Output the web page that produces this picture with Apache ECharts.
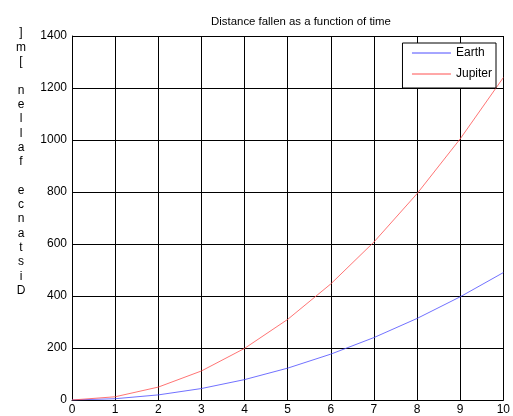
<!DOCTYPE html>
<html>
<head>
<meta charset="utf-8">
<script src="https://cdn.jsdelivr.net/npm/echarts@6/dist/echarts.min.js"></script>
<style>
  html, body { margin: 0; padding: 0; background: #fff; }
  #chart { width: 513px; height: 416px; }
</style>
</head>
<body>
<div id="chart"></div>
<script>
// Time in seconds
const times = [0, 1, 2, 3, 4, 5, 6, 7, 8, 9, 10];
// Distance fallen [m]
const earth = [0, 4.9, 19.6, 44.1, 78.4, 122.5, 176.4, 240.1, 313.6, 396.9, 490];
const jupiter = [0, 12.4, 49.6, 111.6, 198.4, 310, 446.4, 607.6, 793.6, 1004.4, 1240];
const seriesNames = ['Earth', 'Jupiter'];
const titleText = 'Distance fallen as a function of time';
const yLabel = 'Distance fallen [m]';

const font = 'Liberation Sans, Arial, sans-serif';
// Upright characters stacked top to bottom, read bottom-up
const stackedLabel = yLabel.split('').reverse().join('\n');

const chart = echarts.init(document.getElementById('chart'), null, { renderer: 'canvas' });
chart.setOption({
  animation: false,
  backgroundColor: '#fff',
  title: {
    text: titleText,
    left: 296, top: 11, textAlign: 'center',
    textStyle: { fontFamily: font, fontSize: 11.4, fontWeight: 'normal', color: '#000' }
  },
  graphic: [{
    type: 'text',
    x: 21, y: 26,
    style: {
      text: stackedLabel,
      font: '12px ' + font,
      fill: '#000',
      lineHeight: 14.3,
      align: 'center'
    }
  }],
  legend: {
    data: seriesNames,
    orient: 'vertical',
    right: 17, top: 43,
    padding: [4, 4, 8, 9],
    itemGap: 9,
    itemWidth: 39,
    itemHeight: 14,
    itemStyle: { opacity: 0 },
    lineStyle: { width: 1 },
    backgroundColor: '#fff',
    borderColor: '#000',
    borderWidth: 1,
    borderRadius: 0,
    textStyle: { fontFamily: font, fontSize: 12, color: '#000', padding: [0, 0, 0, 0] }
  },
  grid: { left: 72, right: 9, top: 36, bottom: 16, containLabel: false },
  xAxis: {
    type: 'value', min: 0, max: 10, interval: 1,
    axisLine: { show: true, lineStyle: { color: '#000', width: 1 } },
    axisTick: { show: true, inside: true, length: 4, lineStyle: { color: '#000' } },
    axisLabel: { fontFamily: font, fontSize: 12, color: '#000', margin: 4, formatter: v => String(v) },
    splitLine: { show: true, lineStyle: { color: '#000', width: 1 } }
  },
  yAxis: {
    type: 'value', min: 0, max: 1400, interval: 200,
    axisLine: { show: true, lineStyle: { color: '#000', width: 1 } },
    axisTick: { show: true, inside: true, length: 4, lineStyle: { color: '#000' } },
    axisLabel: { fontFamily: font, fontSize: 12, color: '#000', margin: 5, formatter: v => String(v) },
    splitLine: { show: true, lineStyle: { color: '#000', width: 1 } }
  },
  series: [
    {
      name: seriesNames[0], type: 'line', symbol: 'none',
      data: times.map((t, i) => [t, earth[i]]),
      lineStyle: { color: '#4d4dff', width: 0.8 },
      itemStyle: { color: '#4d4dff' }
    },
    {
      name: seriesNames[1], type: 'line', symbol: 'none',
      data: times.map((t, i) => [t, jupiter[i]]),
      lineStyle: { color: '#ff5050', width: 0.8 },
      itemStyle: { color: '#ff5050' }
    }
  ]
});
</script>
</body>
</html>
